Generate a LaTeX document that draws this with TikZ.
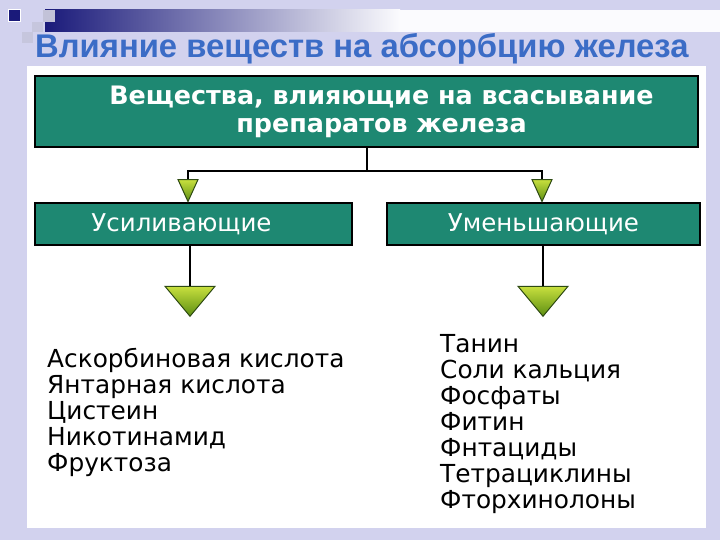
\documentclass[tikz,border=0pt]{standalone}
\usepackage{fontspec}
\setmainfont{DejaVu Sans}
\newfontfamily\titlefont{Liberation Sans}
\usetikzlibrary{shapes.geometric,positioning}

\definecolor{slidebg}{HTML}{D2D2EE}
\definecolor{boxteal}{HTML}{1E8872}
\definecolor{titleblue}{HTML}{3B6CC6}
\definecolor{navy}{HTML}{1A1A7A}
\definecolor{leafhi}{HTML}{C8E03E}
\definecolor{leaflo}{HTML}{5C8E12}
\definecolor{leafline}{HTML}{2E4A12}

\tikzset{
  headbox/.style={draw=black, line width=2pt, fill=boxteal, text=white,
    inner sep=0pt, align=center},
  wire/.style={draw=black, line width=2pt},
  tip/.style={isosceles triangle, isosceles triangle stretches,
    shape border rotate=-90, inner sep=0pt, draw=leafline, line width=1pt,
    top color=leafhi, bottom color=leaflo},
  item/.style={anchor=base west, inner sep=0pt,
    font=\fontsize{24.8}{28}\selectfont}
}

\begin{document}
\begin{tikzpicture}[x=1pt,y=-1pt]
    % slide background
    \fill[slidebg] (0,0) rectangle (720,540);
    \fill[white] (27,66) rectangle (706,528);

    % top-left decoration
    \fill[white!92!slidebg] (400,10) rectangle (720,32);
    \shade[left color=navy, right color=white!92!slidebg] (45,10) rectangle (400,32);
    \fill[slidebg!80!gray] (43,10) rectangle (55,22);
    \fill[slidebg!85!gray] (32,22) rectangle (43,32);
    \fill[slidebg!85!gray] (22,32) rectangle (33,43);
    \filldraw[fill=navy, draw=white, line width=1pt] (8,10) rectangle (20,22);

    \node[anchor=base west, inner sep=0pt, text=titleblue,
      font=\titlefont\bfseries\fontsize{32.8}{38}\selectfont] (title) at (35,58)
      {Влияние веществ на абсорбцию железа};

    % boxes
    \node[headbox, minimum width=663pt, minimum height=71pt,
      font=\bfseries\fontsize{25.4}{28}\selectfont] (top) at (366.5,111.5)
      {\hspace*{30pt}Вещества, влияющие на всасывание\\
       \hspace*{30pt}препаратов железа};
    \node[headbox, minimum width=317pt, minimum height=42pt,
      font=\fontsize{24.5}{28}\selectfont] (inc) at (193.5,224)
      {Усиливающие\hspace*{24pt}};
    \node[headbox, minimum width=313pt, minimum height=42pt,
      font=\fontsize{24.5}{28}\selectfont] (dec) at (543.5,224) {Уменьшающие};

    % arrows
    \node[tip, minimum width=20pt, minimum height=22pt] (smallL) at (188,186) {};
    \node[tip, minimum width=20pt, minimum height=22pt] (smallR) at (542,186) {};
    \node[tip, minimum width=50pt, minimum height=30pt] (bigL) at (190,298) {};
    \node[tip, minimum width=50pt, minimum height=30pt] (bigR) at (543,298) {};

    \coordinate (split) at (366,171);
    \draw[wire] (top.south) -- (top.south |- split);
    \draw[wire] (smallL.north) -- (smallL.north |- split)
      -- (smallR.north |- split) -- (smallR.north);
    \draw[wire] (bigL.north |- inc.south) -- (bigL.north);
    \draw[wire] (bigR.north |- dec.south) -- (bigR.north);

    % lists
    \foreach \txt [count=\i] in {Аскорбиновая кислота, Янтарная кислота,
      Цистеин, Никотинамид, Фруктоза}
      \node[item] (up\i) at (47,341+26*\i) {\txt};
    \foreach \txt [count=\i] in {Танин, Соли кальция, Фосфаты, Фитин,
      Фнтациды, Тетрациклины, Фторхинолоны}
      \node[item] (down\i) at (440,326+26*\i) {\txt};
\end{tikzpicture}
\end{document}
